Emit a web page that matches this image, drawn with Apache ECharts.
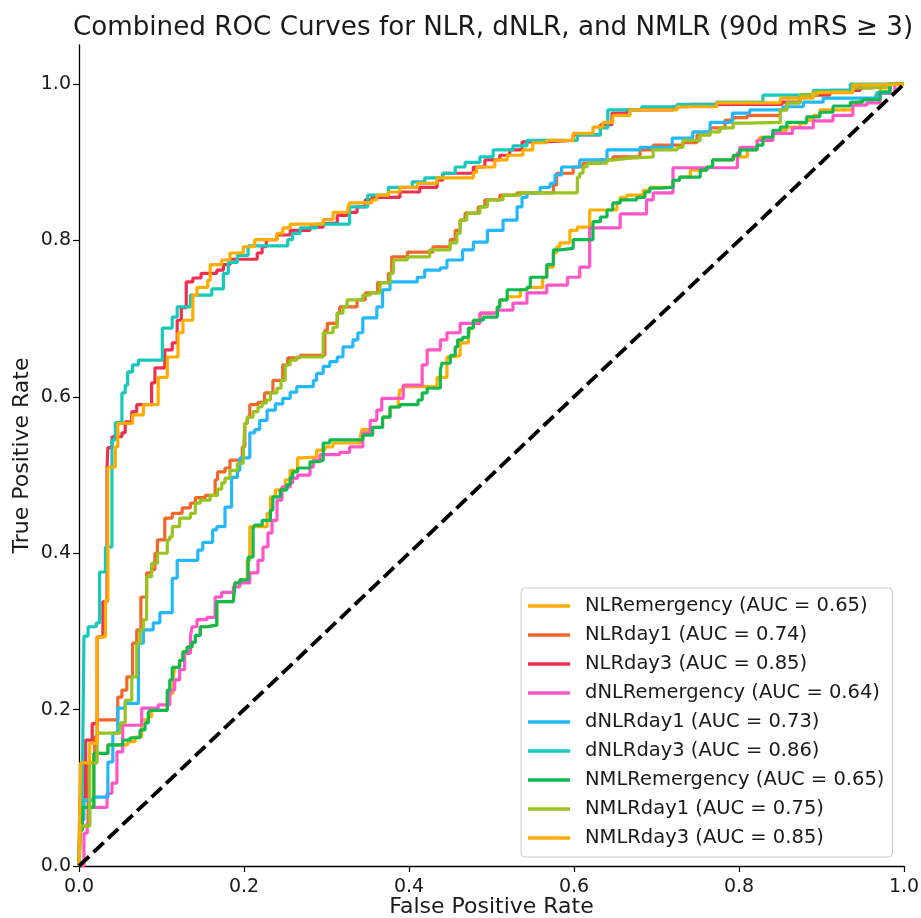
<!DOCTYPE html>
<html><head><meta charset="utf-8">
<script src="https://cdn.jsdelivr.net/npm/echarts@6/dist/echarts.min.js"></script>
<style>html,body{margin:0;padding:0;background:#fff}#c{width:921px;height:918px}</style>
</head><body><div id="c"></div>
<script>
const chartTitle = 'Combined ROC Curves for NLR, dNLR, and NMLR (90d mRS \u2265 3)';
const seriesNames = ['NLRemergency','NLRday1','NLRday3','dNLRemergency','dNLRday1','dNLRday3','NMLRemergency','NMLRday1','NMLRday3'];
const aucValues = [0.65,0.74,0.85,0.64,0.73,0.86,0.65,0.75,0.85];
const colors = ['#FFAE00','#F4662A','#EF2F50','#FF55C8','#22B8FA','#16C9BC','#11BA50','#98C421','#FFAB00'];
const tickValues = [0,0.2,0.4,0.6,0.8,1.0];
const chanceLine = [[0,0],[1,1]];

const rocNLRemergency = [[0,0],[0.001,0],[0.004,0.046],[0.018,0.075],[0.035,0.144],[0.059,0.155],[0.068,0.159],[0.076,0.165],[0.084,0.187],[0.088,0.191],[0.107,0.199],[0.110,0.215],[0.114,0.221],[0.116,0.238],[0.122,0.254],[0.126,0.263],[0.131,0.274],[0.137,0.280],[0.141,0.286],[0.147,0.295],[0.155,0.306],[0.167,0.308],[0.187,0.338],[0.189,0.340],[0.195,0.362],[0.204,0.366],[0.207,0.391],[0.228,0.434],[0.232,0.451],[0.238,0.472],[0.250,0.481],[0.256,0.494],[0.265,0.506],[0.268,0.522],[0.288,0.523],[0.298,0.532],[0.308,0.536],[0.341,0.541],[0.343,0.549],[0.356,0.558],[0.368,0.561],[0.377,0.574],[0.387,0.587],[0.389,0.596],[0.393,0.609],[0.434,0.613],[0.446,0.625],[0.453,0.651],[0.462,0.653],[0.472,0.669],[0.474,0.676],[0.478,0.688],[0.486,0.698],[0.507,0.707],[0.510,0.715],[0.519,0.724],[0.535,0.728],[0.543,0.737],[0.562,0.740],[0.567,0.753],[0.575,0.766],[0.579,0.784],[0.583,0.792],[0.595,0.797],[0.604,0.813],[0.619,0.817],[0.652,0.839],[0.656,0.848],[0.664,0.855],[0.684,0.858],[0.692,0.864],[0.720,0.868],[0.728,0.877],[0.741,0.881],[0.761,0.890],[0.768,0.894],[0.793,0.903],[0.810,0.907],[0.822,0.916],[0.825,0.928],[0.841,0.932],[0.850,0.937],[0.858,0.941],[0.874,0.945],[0.882,0.950],[0.890,0.954],[0.898,0.960],[0.938,0.967],[0.947,0.976],[0.965,0.980],[0.971,0.986],[0.983,0.995],[1,1]];

const rocNLRday1 = [[0,0],[0.002,0],[0.011,0.051],[0.019,0.132],[0.022,0.165],[0.047,0.187],[0.052,0.216],[0.058,0.225],[0.065,0.242],[0.070,0.285],[0.075,0.302],[0.082,0.344],[0.088,0.375],[0.092,0.379],[0.095,0.400],[0.104,0.417],[0.113,0.445],[0.125,0.451],[0.135,0.458],[0.141,0.464],[0.153,0.471],[0.165,0.474],[0.168,0.494],[0.177,0.504],[0.183,0.509],[0.198,0.519],[0.201,0.536],[0.204,0.566],[0.207,0.574],[0.217,0.590],[0.225,0.593],[0.235,0.605],[0.247,0.621],[0.253,0.641],[0.268,0.650],[0.298,0.653],[0.301,0.685],[0.313,0.694],[0.316,0.707],[0.337,0.715],[0.347,0.724],[0.362,0.733],[0.375,0.746],[0.379,0.758],[0.398,0.779],[0.429,0.785],[0.450,0.792],[0.456,0.801],[0.462,0.813],[0.468,0.826],[0.484,0.835],[0.492,0.843],[0.510,0.852],[0.531,0.858],[0.575,0.861],[0.579,0.871],[0.599,0.886],[0.611,0.894],[0.632,0.899],[0.647,0.903],[0.680,0.907],[0.696,0.916],[0.732,0.922],[0.749,0.925],[0.765,0.935],[0.783,0.944],[0.793,0.954],[0.810,0.957],[0.850,0.960],[0.858,0.967],[0.874,0.976],[0.895,0.986],[0.938,0.990],[0.959,0.995],[0.979,0.997],[1,1]];

const rocNLRday3 = [[0,0],[0.001,0],[0.008,0.088],[0.016,0.161],[0.022,0.182],[0.029,0.293],[0.034,0.338],[0.035,0.510],[0.040,0.535],[0.052,0.549],[0.056,0.554],[0.064,0.568],[0.070,0.581],[0.088,0.590],[0.092,0.618],[0.104,0.637],[0.113,0.660],[0.119,0.669],[0.124,0.698],[0.130,0.714],[0.138,0.747],[0.148,0.752],[0.167,0.758],[0.175,0.762],[0.183,0.769],[0.216,0.776],[0.222,0.784],[0.227,0.792],[0.240,0.801],[0.256,0.807],[0.280,0.813],[0.296,0.817],[0.313,0.822],[0.325,0.832],[0.337,0.836],[0.347,0.843],[0.355,0.852],[0.389,0.855],[0.413,0.862],[0.434,0.868],[0.441,0.877],[0.478,0.886],[0.492,0.894],[0.510,0.903],[0.522,0.909],[0.537,0.916],[0.562,0.926],[0.599,0.928],[0.632,0.935],[0.646,0.948],[0.664,0.963],[0.720,0.967],[0.741,0.971],[0.852,0.974],[0.874,0.977],[0.910,0.986],[0.947,0.992],[0.971,0.999],[1,1]];

const rocDNLRemergency = [[0,0],[0.006,0],[0.010,0.042],[0.013,0.055],[0.034,0.075],[0.040,0.093],[0.046,0.106],[0.053,0.146],[0.076,0.180],[0.096,0.202],[0.110,0.206],[0.116,0.225],[0.122,0.238],[0.128,0.251],[0.135,0.272],[0.137,0.293],[0.143,0.306],[0.155,0.315],[0.165,0.318],[0.173,0.344],[0.187,0.350],[0.195,0.357],[0.207,0.362],[0.217,0.375],[0.223,0.391],[0.229,0.408],[0.234,0.426],[0.240,0.442],[0.246,0.468],[0.256,0.485],[0.259,0.490],[0.265,0.496],[0.280,0.500],[0.284,0.510],[0.292,0.519],[0.316,0.526],[0.328,0.529],[0.344,0.536],[0.353,0.554],[0.361,0.570],[0.367,0.583],[0.393,0.598],[0.416,0.615],[0.422,0.641],[0.438,0.660],[0.446,0.673],[0.462,0.682],[0.486,0.694],[0.507,0.707],[0.526,0.711],[0.543,0.720],[0.567,0.733],[0.592,0.743],[0.607,0.753],[0.619,0.766],[0.656,0.816],[0.688,0.834],[0.696,0.852],[0.720,0.861],[0.798,0.893],[0.801,0.912],[0.822,0.919],[0.841,0.928],[0.865,0.937],[0.890,0.944],[0.914,0.953],[0.938,0.960],[0.955,0.973],[0.971,0.976],[0.989,0.988],[1,1]];

const rocDNLRday1 = [[0,0],[0.001,0],[0.006,0.059],[0.017,0.084],[0.035,0.088],[0.041,0.133],[0.047,0.170],[0.056,0.202],[0.072,0.208],[0.078,0.285],[0.090,0.302],[0.098,0.311],[0.113,0.324],[0.119,0.368],[0.144,0.391],[0.150,0.404],[0.162,0.414],[0.167,0.430],[0.177,0.434],[0.185,0.459],[0.192,0.497],[0.195,0.506],[0.207,0.522],[0.213,0.554],[0.219,0.558],[0.228,0.570],[0.238,0.583],[0.247,0.591],[0.256,0.598],[0.264,0.606],[0.284,0.613],[0.288,0.621],[0.296,0.630],[0.304,0.639],[0.313,0.645],[0.320,0.651],[0.332,0.664],[0.338,0.673],[0.344,0.682],[0.361,0.701],[0.368,0.715],[0.377,0.737],[0.410,0.747],[0.419,0.753],[0.438,0.762],[0.446,0.765],[0.465,0.775],[0.478,0.788],[0.495,0.798],[0.514,0.813],[0.531,0.826],[0.537,0.843],[0.543,0.855],[0.559,0.861],[0.571,0.868],[0.577,0.873],[0.585,0.884],[0.607,0.894],[0.640,0.903],[0.680,0.916],[0.719,0.919],[0.744,0.931],[0.765,0.939],[0.792,0.951],[0.813,0.963],[0.853,0.967],[0.878,0.971],[0.902,0.977],[0.967,0.982],[0.983,0.989],[1,1]];

const rocDNLRday3 = [[0,0],[0.001,0],[0.004,0.046],[0.006,0.097],[0.011,0.294],[0.021,0.306],[0.025,0.311],[0.032,0.376],[0.040,0.408],[0.044,0.545],[0.052,0.567],[0.056,0.605],[0.059,0.615],[0.065,0.632],[0.072,0.641],[0.101,0.647],[0.113,0.688],[0.119,0.702],[0.135,0.715],[0.161,0.730],[0.175,0.738],[0.181,0.758],[0.192,0.772],[0.205,0.781],[0.253,0.793],[0.259,0.801],[0.268,0.809],[0.288,0.816],[0.328,0.821],[0.350,0.843],[0.375,0.858],[0.404,0.868],[0.419,0.875],[0.441,0.880],[0.456,0.886],[0.468,0.894],[0.486,0.900],[0.502,0.907],[0.526,0.916],[0.543,0.921],[0.604,0.928],[0.632,0.935],[0.641,0.944],[0.682,0.967],[0.725,0.971],[0.773,0.974],[0.829,0.977],[0.890,0.986],[0.935,0.992],[0.962,1.0],[1,1]];

const rocNMLRemergency = [[0,0],[0.001,0],[0.004,0.046],[0.018,0.075],[0.035,0.144],[0.053,0.155],[0.062,0.161],[0.074,0.164],[0.080,0.174],[0.084,0.183],[0.086,0.196],[0.107,0.199],[0.110,0.225],[0.113,0.238],[0.122,0.254],[0.126,0.263],[0.131,0.274],[0.137,0.280],[0.141,0.286],[0.147,0.295],[0.155,0.306],[0.167,0.308],[0.187,0.338],[0.189,0.340],[0.195,0.362],[0.205,0.366],[0.211,0.395],[0.213,0.432],[0.222,0.436],[0.232,0.442],[0.235,0.455],[0.244,0.472],[0.252,0.481],[0.256,0.488],[0.259,0.497],[0.265,0.504],[0.280,0.509],[0.290,0.517],[0.296,0.519],[0.304,0.541],[0.344,0.545],[0.356,0.551],[0.368,0.561],[0.377,0.574],[0.389,0.587],[0.411,0.590],[0.416,0.596],[0.422,0.605],[0.438,0.611],[0.440,0.634],[0.450,0.643],[0.456,0.653],[0.459,0.664],[0.465,0.673],[0.472,0.676],[0.478,0.688],[0.490,0.698],[0.507,0.702],[0.510,0.715],[0.519,0.724],[0.543,0.737],[0.547,0.740],[0.567,0.753],[0.575,0.769],[0.583,0.788],[0.599,0.790],[0.623,0.801],[0.632,0.824],[0.640,0.830],[0.647,0.839],[0.656,0.848],[0.676,0.852],[0.686,0.855],[0.692,0.862],[0.704,0.867],[0.720,0.868],[0.728,0.877],[0.753,0.881],[0.761,0.890],[0.768,0.894],[0.793,0.903],[0.801,0.909],[0.822,0.916],[0.829,0.922],[0.841,0.932],[0.850,0.941],[0.858,0.945],[0.882,0.951],[0.898,0.958],[0.914,0.964],[0.935,0.972],[0.950,0.977],[0.971,0.980],[0.983,0.990],[1,1]];

const rocNMLRday1 = [[0,0],[0.002,0],[0.013,0.051],[0.022,0.132],[0.050,0.170],[0.056,0.183],[0.064,0.212],[0.070,0.242],[0.074,0.285],[0.078,0.302],[0.082,0.315],[0.088,0.370],[0.095,0.387],[0.107,0.400],[0.110,0.417],[0.113,0.421],[0.122,0.434],[0.135,0.445],[0.141,0.451],[0.147,0.464],[0.159,0.468],[0.168,0.474],[0.173,0.482],[0.177,0.490],[0.183,0.496],[0.192,0.506],[0.199,0.515],[0.201,0.519],[0.204,0.566],[0.211,0.574],[0.217,0.581],[0.222,0.587],[0.227,0.592],[0.232,0.596],[0.240,0.605],[0.245,0.611],[0.250,0.621],[0.256,0.641],[0.264,0.647],[0.296,0.651],[0.308,0.682],[0.313,0.689],[0.320,0.707],[0.325,0.715],[0.344,0.724],[0.353,0.730],[0.365,0.733],[0.377,0.746],[0.381,0.758],[0.398,0.775],[0.425,0.779],[0.450,0.788],[0.458,0.797],[0.462,0.809],[0.470,0.826],[0.486,0.835],[0.495,0.843],[0.514,0.852],[0.535,0.858],[0.604,0.861],[0.607,0.881],[0.611,0.886],[0.616,0.894],[0.640,0.899],[0.650,0.903],[0.664,0.905],[0.696,0.907],[0.725,0.916],[0.732,0.919],[0.753,0.928],[0.765,0.935],[0.777,0.939],[0.793,0.944],[0.810,0.950],[0.850,0.951],[0.858,0.967],[0.874,0.976],[0.895,0.986],[0.938,0.990],[0.959,0.995],[0.979,0.997],[1,1]];

const rocNMLRday3 = [[0,0],[0.001,0],[0.002,0.084],[0.013,0.132],[0.022,0.157],[0.032,0.293],[0.035,0.340],[0.044,0.510],[0.047,0.536],[0.065,0.566],[0.078,0.577],[0.096,0.590],[0.107,0.625],[0.120,0.651],[0.126,0.682],[0.138,0.698],[0.143,0.730],[0.156,0.740],[0.159,0.749],[0.173,0.769],[0.183,0.775],[0.199,0.784],[0.213,0.792],[0.240,0.801],[0.247,0.809],[0.256,0.816],[0.296,0.821],[0.308,0.827],[0.326,0.836],[0.328,0.843],[0.355,0.848],[0.361,0.852],[0.375,0.858],[0.389,0.862],[0.410,0.868],[0.434,0.873],[0.478,0.880],[0.482,0.887],[0.504,0.894],[0.519,0.903],[0.538,0.909],[0.550,0.916],[0.567,0.925],[0.599,0.928],[0.623,0.937],[0.635,0.945],[0.647,0.951],[0.668,0.960],[0.725,0.967],[0.773,0.971],[0.850,0.976],[0.890,0.982],[0.938,0.989],[0.971,0.999],[1,1]];

const curves = [rocNLRemergency, rocNLRday1, rocNLRday3, rocDNLRemergency, rocDNLRday1, rocDNLRday3, rocNMLRemergency, rocNMLRday1, rocNMLRday3];

const FONT = 'DejaVu Sans';
const labels = seriesNames.map((n, i) => n + ' (AUC = ' + aucValues[i].toFixed(2) + ')');

const series = curves.map((d, i) => ({
  name: labels[i], type: 'line', data: d, step: 'start',
  symbol: 'none', showSymbol: false, animation: false,
  lineStyle: { width: 3.2, color: colors[i] }, itemStyle: { color: colors[i] },
  z: 2 + i
}));
series.push({
  name: 'chance', type: 'line', data: chanceLine, symbol: 'none', animation: false, silent: true,
  lineStyle: { color: '#000', width: 3.8, type: [14, 6] }, z: 30
});

const chart = echarts.init(document.getElementById('c'), null, { renderer: 'canvas' });
chart.setOption({
  backgroundColor: '#fff',
  animation: false,
  title: {
    text: chartTitle, left: 488, top: 10, textAlign: 'center',
    textStyle: { fontFamily: FONT, fontSize: 26.2, fontWeight: 'normal', color: '#1a1a1a' }
  },
  grid: { left: 79, right: 17, top: 45, bottom: 52, containLabel: false, outerBoundsMode: 'none' },
  xAxis: {
    type: 'value', min: 0, max: 1, interval: 0.2,
    name: 'False Positive Rate', nameLocation: 'middle', nameGap: 30, nameMoveOverlap: false,
    nameTextStyle: { fontFamily: FONT, fontSize: 22, color: '#1a1a1a' },
    axisLine: { show: true, lineStyle: { color: '#000', width: 1.3 } },
    axisTick: { show: true, inside: false, length: 6, lineStyle: { color: '#000', width: 1.2 }, customValues: tickValues },
    axisLabel: { fontFamily: FONT, fontSize: 19, color: '#1a1a1a', margin: 12, customValues: tickValues, formatter: v => v.toFixed(1) },
    splitLine: { show: false }
  },
  yAxis: {
    type: 'value', min: 0, max: 1.05, interval: 0.2,
    name: 'True Positive Rate', nameLocation: 'middle', nameGap: 46, nameMoveOverlap: false,
    nameTextStyle: { fontFamily: FONT, fontSize: 22, color: '#1a1a1a' },
    axisLine: { show: true, lineStyle: { color: '#000', width: 1.3 } },
    axisTick: { show: true, inside: false, length: 6, lineStyle: { color: '#000', width: 1.2 }, customValues: tickValues },
    axisLabel: { fontFamily: FONT, fontSize: 19, color: '#1a1a1a', margin: 8, customValues: tickValues, formatter: v => v.toFixed(1) },
    splitLine: { show: false }
  },
  legend: {
    orient: 'vertical', left: 521, top: 588, data: labels,
    icon: 'rect', itemWidth: 42, itemHeight: 3.5, itemGap: 9,
    textStyle: { fontFamily: FONT, fontSize: 19.5, color: '#1a1a1a', lineHeight: 20, padding: [0, 0, 0, 10] },
    backgroundColor: 'rgba(255,255,255,0.85)', borderColor: '#cccccc', borderWidth: 1, borderRadius: 4,
    padding: [8, 8, 9, 7], selectedMode: false
  },
  series: series
});
</script></body></html>
